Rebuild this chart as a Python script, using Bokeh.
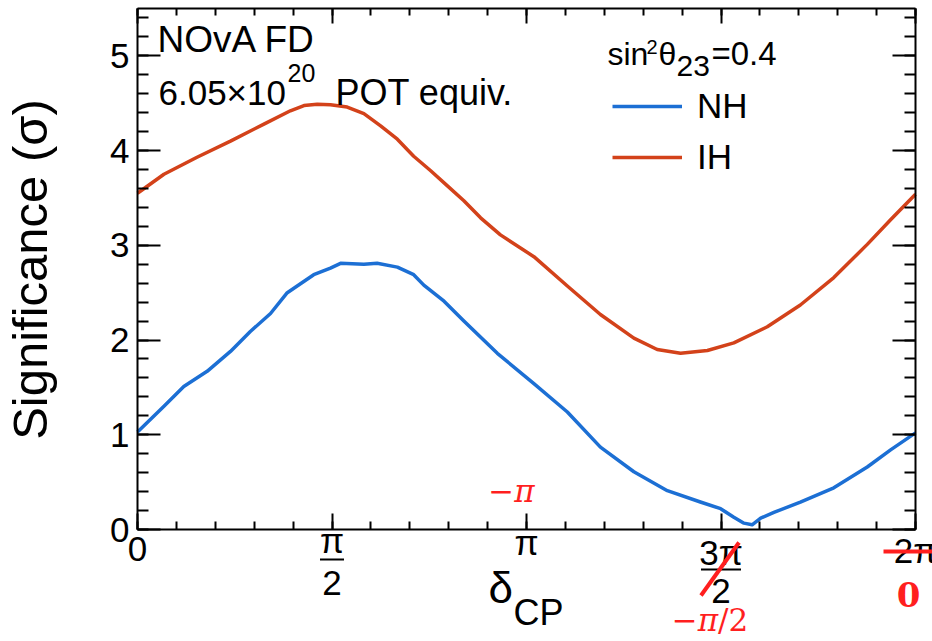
import math
from bokeh.plotting import figure
from bokeh.models import (FixedTicker, LinearAxis, Range1d, Label, Arrow,
                          Legend, LegendItem)
from bokeh.embed import file_html
from bokeh.resources import INLINE

# ---------------- data (delta_CP in units of pi, significance in sigma) -------------
ih_x = [0.000, 0.068, 0.153, 0.239, 0.325, 0.393, 0.428, 0.462, 0.496, 0.539,
        0.582, 0.625, 0.668, 0.710, 0.753, 0.796, 0.839, 0.882, 0.933, 1.019,
        1.105, 1.190, 1.276, 1.336, 1.396, 1.465, 1.533, 1.619, 1.704, 1.790,
        1.876, 1.936, 2.000]
ih_y = [3.55, 3.75, 3.93, 4.10, 4.28, 4.42, 4.475, 4.49, 4.485, 4.46,
        4.39, 4.26, 4.12, 3.94, 3.79, 3.63, 3.47, 3.29, 3.11, 2.88,
        2.57, 2.27, 2.02, 1.90, 1.86, 1.89, 1.97, 2.14, 2.37, 2.66,
        3.01, 3.27, 3.54]

nh_x = [0.000, 0.068, 0.119, 0.179, 0.239, 0.290, 0.342, 0.385, 0.453, 0.496,
        0.522, 0.582, 0.616, 0.668, 0.710, 0.736, 0.788, 0.839, 0.925, 1.019,
        1.105, 1.190, 1.276, 1.362, 1.447, 1.499, 1.533, 1.559, 1.580, 1.602,
        1.636, 1.704, 1.790, 1.876, 1.936, 2.000]
nh_y = [1.03, 1.30, 1.51, 1.67, 1.88, 2.09, 2.28, 2.50, 2.69, 2.76,
        2.81, 2.80, 2.81, 2.77, 2.69, 2.58, 2.41, 2.20, 1.86, 1.54,
        1.24, 0.87, 0.61, 0.41, 0.29, 0.22, 0.13, 0.067, 0.05, 0.12,
        0.18, 0.29, 0.44, 0.66, 0.84, 1.02]

x_ticks = [0, 0.5, 1, 1.5, 2]
x_tick_labels = ["0", "π/2", "π", "3π/2", "2π"]
x_minor = [i / 10 for i in range(0, 21)]
y_ticks = [0, 1, 2, 3, 4, 5]
y_minor = [i / 5 for i in range(0, 28)]
alt_labels = {1: "−π", 1.5: "−π/2", 2: "0"}   # red alternative convention

series_names = ["NH", "IH"]
series_colors = ["#1c6fd4", "#d3421a"]

# ---------------- layout constants -----------------
W, H = 932, 641
FL, FR, FT, FB = 137, 915, 8, 529      # pixel box of the plotted axes
XMAX, YMAX = 2.0, 5.5
SANS = "Liberation Sans"
SERIF = "DejaVu Serif"
RED = "#ff1f1f"
K = 0.37   # baseline correction of Label text, in em


def dx(px):
    return (px - FL) / (FR - FL) * XMAX


def dy(py):
    return (FB - py) / (FB - FT) * YMAX


def ox(off):
    return off / (FR - FL) * XMAX


p = figure(width=W, height=H, output_backend="svg", toolbar_location=None,
           x_range=Range1d(dx(0), dx(W)), y_range=Range1d(dy(H), dy(0)),
           min_border=0, x_axis_location=None, y_axis_location=None)
p.xgrid.visible = False
p.ygrid.visible = False
p.outline_line_color = None
p.background_fill_color = "white"
p.border_fill_color = "white"


def make_axis(place, loc, bounds, ticks, minor, tin, tmin, show_labels):
    ax = LinearAxis(fixed_location=loc, bounds=bounds)
    ax.ticker = FixedTicker(ticks=ticks, minor_ticks=minor)
    ax.axis_line_color = "black"
    ax.axis_line_width = 2
    ax.major_tick_line_color = "black"
    ax.major_tick_line_width = 2
    ax.minor_tick_line_color = "black"
    ax.minor_tick_line_width = 2
    ax.major_tick_in = tin
    ax.major_tick_out = 0
    ax.minor_tick_in = tmin
    ax.minor_tick_out = 0
    if show_labels:
        ax.major_label_text_font = SANS
        ax.major_label_text_font_size = "35px"
        ax.major_label_text_color = "black"
        ax.major_label_standoff = 8
    else:
        ax.major_label_overrides = {t: "" for t in ticks}
        ax.major_label_text_font_size = "0px"
        ax.major_label_standoff = 0
    p.add_layout(ax, place)
    return ax


make_axis("left", 0, (0, YMAX), y_ticks, y_minor, 23, 11, True)
make_axis("right", XMAX, (0, YMAX), y_ticks, y_minor, 23, 11, False)
make_axis("below", 0, (0, XMAX), x_ticks, x_minor, 16, 8, False)
make_axis("above", YMAX, (0, XMAX), x_ticks, x_minor, 15, 7, False)

# ---------------- curves -----------------
r_nh = p.line(nh_x, nh_y, line_color=series_colors[0], line_width=3.5,
              line_join="round")
r_ih = p.line(ih_x, ih_y, line_color=series_colors[1], line_width=3.5,
              line_join="round")

legend = Legend(items=[LegendItem(label=series_names[0], renderers=[r_nh]),
                       LegendItem(label=series_names[1], renderers=[r_ih])],
                location=(612, H - 177), glyph_width=70, glyph_height=40,
                label_height=40, label_standoff=15, spacing=11, padding=0,
                margin=0, border_line_color=None, background_fill_alpha=0,
                label_text_font=SANS, label_text_font_size="35px",
                label_text_color="black")
p.add_layout(legend)


def lab(x, py, text, size, font=SANS, align="left", color="black",
        style="normal"):
    """x in data units, py = wanted baseline in pixels."""
    p.add_layout(Label(x=x, y=dy(py - K * size), text=text, text_font=font,
                       text_font_size=f"{size}px", text_align=align,
                       text_baseline="alphabetic", text_color=color,
                       text_font_style=style))


def seg(x0, y0, x1, y1, color="black", width=2):
    p.add_layout(Arrow(x_start=x0, y_start=y0, x_end=x1, y_end=y1, end=None,
                       line_color=color, line_width=width))


# ---------------- in-plot texts -----------------
lab(dx(157), 53, "NOvA FD", 37)
lab(dx(158), 105, "6.05×10", 35)
lab(dx(287), 82, "20", 25)
lab(dx(335), 105, "POT equiv.", 36)

lab(dx(607), 65, "sin", 32)
lab(dx(646), 54, "2", 20)
lab(dx(658), 65, "θ", 32)
lab(dx(676), 77, "23", 30)
lab(dx(711), 65, "=0.4", 33)

# ---------------- axis titles -----------------
YT = 49
p.add_layout(Label(x=dx(48 - K * YT), y=dy(269), text="Significance (σ)",
                   text_font=SANS, text_font_size=f"{YT}px",
                   text_align="center", text_baseline="alphabetic",
                   text_color="black", angle=math.pi / 2))
lab(dx(488), 603, "δ", 44)
lab(dx(513), 625, "CP", 36)

# ---------------- x tick labels (fractions) -----------------
for t, txt in zip(x_ticks, x_tick_labels):
    if "/" in txt:
        num, den = txt.split("/")
        if len(num) == 1:
            nb, bar_y, db, half = 553, 559, 595, 12
        else:
            nb, bar_y, db, half = 565, 569, 603, 20
        lab(t, nb, num, 35, align="center")
        seg(t - ox(half), dy(bar_y), t + ox(half), dy(bar_y))
        lab(t, db, den, 35, align="center")
    else:
        base = {"0": 561, "π": 555, "2π": 563}[txt]
        lab(t, base, txt, 35, align="center")

# ---------------- red hand annotations -----------------
lab(1 + ox(-15), 502, alt_labels[1], 31, font=SERIF, align="center",
    color=RED, style="italic")
head, tail = alt_labels[1.5].split("/")
lab(1.5 + ox(-3), 631, head, 31, font=SERIF, align="right", color=RED,
    style="italic")
lab(1.5 + ox(-3), 631, "/" + tail, 31, font=SERIF, align="left", color=RED)
lab(2 + ox(-7), 607, alt_labels[2], 34, font=SERIF, align="center",
    color=RED, style="bold")
seg(1.5 + ox(-20), dy(595), 1.5 + ox(18), dy(542), color=RED, width=4)
seg(2 + ox(-32), dy(551), 2 + ox(20), dy(551), color=RED, width=4)

open("out.html", "w").write(file_html(p, INLINE))
